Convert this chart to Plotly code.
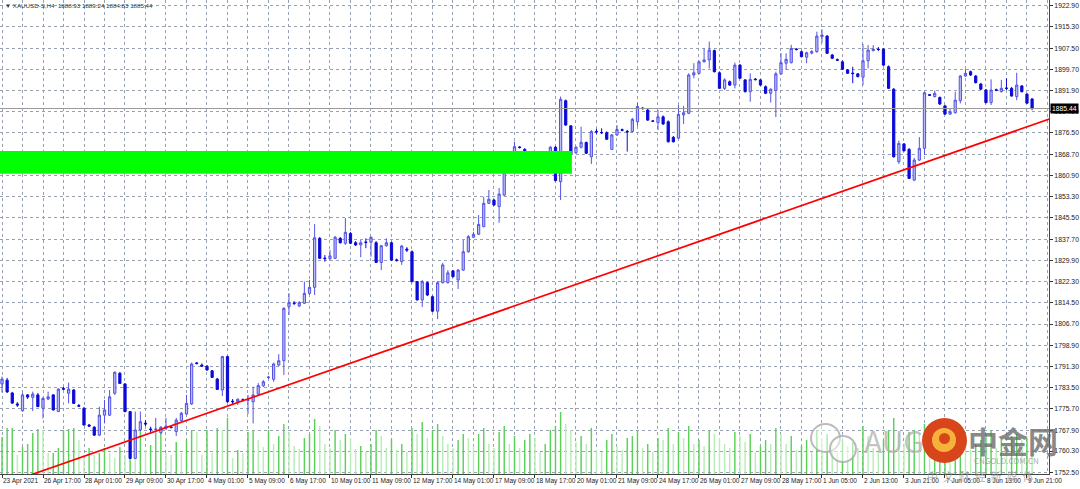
import plotly.graph_objects as go

# ---------------- data ----------------
time_labels = ["23 Apr 2021", "26 Apr 17:00", "28 Apr 01:00", "29 Apr 09:00", "30 Apr 17:00",
               "4 May 01:00", "5 May 09:00", "6 May 17:00", "10 May 01:00", "11 May 09:00",
               "12 May 17:00", "14 May 01:00", "17 May 09:00", "18 May 17:00", "20 May 01:00",
               "21 May 09:00", "24 May 17:00", "26 May 01:00", "27 May 09:00", "28 May 17:00",
               "1 Jun 05:00", "2 Jun 13:00", "3 Jun 21:00", "7 Jun 05:00", "8 Jun 13:00",
               "9 Jun 21:00"]
label_every = 8

price_labels = ["1752.50", "1760.30", "1767.90", "1775.70", "1783.50", "1791.30", "1798.90",
                "1806.70", "1814.50", "1822.30", "1829.90", "1837.70", "1845.50", "1853.30",
                "1860.90", "1868.70", "1876.50", "1884.30", "1891.90", "1899.70", "1907.50",
                "1915.30", "1922.90"]

open_ = [
    1784.8, 1786.2, 1781.5, 1777.5, 1775.0, 1780.8, 1779.9, 1780.8, 1775.9, 1779.3,
    1780.8, 1774.7, 1783.1, 1781.4, 1782.6, 1776.9, 1775.9, 1769.8, 1769.0, 1766.1,
    1773.4, 1773.4, 1781.4, 1788.7, 1784.8, 1774.7, 1757.6, 1768.0, 1770.5, 1768.3,
    1768.2, 1767.0, 1768.6, 1769.1, 1767.4, 1771.4, 1773.8, 1777.5, 1792.5, 1791.7,
    1791.3, 1789.6, 1786.6, 1782.6, 1794.8, 1778.5, 1778.3, 1779.0, 1778.8, 1778.3,
    1781.1, 1784.1, 1787.1, 1786.5, 1791.7, 1793.3, 1813.0, 1814.4, 1813.3, 1814.3,
    1817.9, 1820.1, 1838.0, 1830.8, 1830.6, 1830.7, 1838.0, 1836.2, 1839.8, 1836.4,
    1835.6, 1836.7, 1836.6, 1836.4, 1829.2, 1835.3, 1836.4, 1830.1, 1829.5, 1834.1,
    1833.1, 1822.2, 1815.5, 1821.8, 1816.7, 1811.4, 1821.8, 1821.8, 1826.1, 1822.8,
    1826.4, 1833.1, 1838.4, 1839.5, 1842.3, 1850.8, 1852.0, 1849.6, 1853.8, 1865.6,
    1866.9, 1871.4, 1870.5, 1867.3, 1863.3, 1868.6, 1869.1, 1867.3, 1871.3, 1858.7,
    1888.3, 1879.1, 1869.3, 1871.3, 1873.0, 1867.8, 1877.1, 1876.7, 1876.6, 1870.5,
    1875.8, 1877.7, 1877.1, 1877.0, 1880.6, 1885.6, 1884.9, 1880.9, 1880.3, 1882.4,
    1880.6, 1874.9, 1874.6, 1883.1, 1883.7, 1897.7, 1898.3, 1902.5, 1903.2, 1906.6,
    1898.5, 1892.8, 1895.2, 1894.0, 1901.3, 1895.9, 1891.6, 1896.2, 1895.9, 1893.4,
    1891.0, 1892.0, 1898.1, 1902.0, 1902.2, 1907.2, 1906.2, 1904.2, 1905.7, 1906.2,
    1911.7, 1911.9, 1905.0, 1903.3, 1902.5, 1899.5, 1898.4, 1898.1, 1896.9, 1902.9,
    1906.6, 1907.1, 1907.1, 1900.7, 1892.5, 1866.0, 1872.5, 1870.5, 1859.3, 1866.6,
    1870.9, 1890.5, 1889.8, 1889.5, 1886.4, 1883.4, 1883.9, 1888.3, 1897.3, 1898.9,
    1897.3, 1894.4, 1892.2, 1887.6, 1892.3, 1891.6, 1892.9, 1892.8, 1889.8, 1893.7,
    1890.7, 1888.93]

high = [
    1787.5, 1787.0, 1781.9, 1778.2, 1781.5, 1781.1, 1782.0, 1781.5, 1780.0, 1782.0,
    1781.1, 1783.3, 1783.7, 1785.3, 1782.9, 1777.5, 1776.4, 1770.2, 1769.4, 1776.5,
    1778.9, 1782.6, 1789.3, 1789.2, 1785.1, 1774.9, 1774.7, 1774.7, 1771.6, 1769.2,
    1772.4, 1769.4, 1772.4, 1769.4, 1772.4, 1774.6, 1780.8, 1792.6, 1792.8, 1792.3,
    1791.7, 1789.9, 1787.0, 1795.1, 1795.1, 1779.3, 1779.5, 1779.5, 1780.8, 1783.8,
    1785.1, 1786.2, 1787.7, 1792.6, 1795.7, 1812.9, 1818.0, 1815.1, 1815.1, 1822.2,
    1822.8, 1843.2, 1838.5, 1831.9, 1833.7, 1838.9, 1838.5, 1845.4, 1840.3, 1837.0,
    1837.4, 1838.0, 1838.6, 1837.0, 1835.6, 1838.0, 1836.8, 1830.6, 1835.6, 1834.8,
    1833.6, 1822.4, 1822.8, 1822.2, 1817.1, 1822.4, 1829.0, 1826.4, 1826.4, 1826.8,
    1837.4, 1839.2, 1840.4, 1846.5, 1853.2, 1855.7, 1852.4, 1856.4, 1867.8, 1867.8,
    1873.3, 1871.7, 1871.0, 1867.5, 1869.1, 1869.0, 1869.6, 1871.7, 1871.7, 1889.8,
    1888.7, 1879.4, 1871.7, 1878.8, 1873.4, 1877.6, 1878.0, 1878.2, 1877.1, 1876.1,
    1879.4, 1878.1, 1877.6, 1882.0, 1887.5, 1886.0, 1885.3, 1881.2, 1884.9, 1882.9,
    1881.1, 1875.4, 1886.7, 1886.4, 1898.3, 1902.0, 1903.0, 1907.4, 1909.9, 1907.0,
    1899.0, 1896.5, 1895.7, 1902.2, 1901.7, 1896.2, 1898.3, 1896.6, 1896.2, 1893.9,
    1892.8, 1898.9, 1905.7, 1905.6, 1908.7, 1907.5, 1906.6, 1906.2, 1906.8, 1913.5,
    1914.4, 1912.3, 1905.4, 1903.7, 1903.0, 1899.9, 1900.7, 1898.4, 1909.0, 1908.6,
    1908.6, 1907.9, 1907.5, 1901.2, 1892.9, 1873.7, 1872.8, 1871.0, 1867.4, 1875.0,
    1891.6, 1890.7, 1892.0, 1889.8, 1886.7, 1885.5, 1891.6, 1897.7, 1899.8, 1899.3,
    1897.7, 1894.8, 1892.6, 1896.1, 1892.7, 1895.9, 1896.5, 1893.3, 1898.5, 1894.0,
    1891.1, 1889.24]

low = [
    1781.7, 1781.5, 1777.5, 1776.4, 1774.7, 1779.3, 1774.9, 1776.4, 1772.2, 1778.9,
    1775.1, 1774.6, 1782.6, 1777.7, 1777.5, 1776.4, 1769.6, 1769.1, 1765.8, 1765.8,
    1770.4, 1773.1, 1780.8, 1784.8, 1774.5, 1757.4, 1757.4, 1767.6, 1769.4, 1766.8,
    1767.0, 1766.5, 1768.0, 1768.5, 1765.8, 1771.1, 1773.4, 1777.1, 1791.9, 1791.2,
    1789.7, 1787.0, 1782.6, 1780.4, 1778.0, 1777.1, 1777.1, 1778.4, 1773.8, 1770.4,
    1780.8, 1783.7, 1786.6, 1785.6, 1791.3, 1788.1, 1810.0, 1813.6, 1812.9, 1814.0,
    1817.3, 1817.3, 1830.5, 1829.5, 1830.1, 1830.5, 1836.1, 1835.6, 1835.9, 1835.2,
    1831.1, 1834.4, 1831.3, 1829.0, 1826.4, 1835.0, 1829.7, 1829.5, 1828.3, 1833.0,
    1821.9, 1815.3, 1812.9, 1816.9, 1811.1, 1808.5, 1821.5, 1821.5, 1823.7, 1819.5,
    1826.1, 1832.8, 1838.1, 1839.2, 1842.0, 1850.6, 1849.8, 1843.7, 1853.5, 1865.3,
    1866.6, 1870.8, 1867.5, 1863.3, 1863.0, 1867.9, 1867.4, 1863.9, 1858.8, 1852.0,
    1879.1, 1868.5, 1868.8, 1870.8, 1868.8, 1865.2, 1876.1, 1876.1, 1873.9, 1870.3,
    1875.4, 1877.1, 1869.7, 1876.7, 1879.1, 1885.1, 1880.9, 1880.5, 1877.6, 1879.4,
    1873.0, 1873.0, 1874.3, 1879.8, 1883.4, 1896.5, 1898.0, 1902.3, 1900.1, 1898.6,
    1892.6, 1892.2, 1893.7, 1892.8, 1896.2, 1891.3, 1887.9, 1895.7, 1893.7, 1890.7,
    1887.6, 1882.3, 1897.7, 1899.5, 1901.9, 1906.6, 1904.1, 1902.0, 1905.2, 1905.8,
    1909.5, 1905.4, 1903.5, 1902.8, 1899.5, 1898.1, 1894.7, 1896.8, 1894.0, 1900.1,
    1906.3, 1906.4, 1901.0, 1892.6, 1867.5, 1865.2, 1869.7, 1859.7, 1858.9, 1866.3,
    1868.5, 1890.0, 1889.5, 1886.7, 1883.1, 1883.1, 1883.6, 1887.3, 1897.0, 1897.3,
    1894.6, 1892.2, 1887.3, 1886.7, 1891.8, 1891.3, 1892.2, 1889.8, 1888.5, 1891.3,
    1887.1, 1884.83]

close = [
    1786.6, 1781.9, 1777.8, 1777.1, 1780.8, 1780.0, 1781.1, 1776.5, 1779.5, 1780.1,
    1775.3, 1782.9, 1782.9, 1782.9, 1777.7, 1776.7, 1769.8, 1769.4, 1766.1, 1773.4,
    1775.3, 1780.1, 1789.1, 1785.0, 1774.7, 1757.6, 1768.0, 1771.0, 1770.2, 1768.2,
    1768.3, 1769.0, 1769.4, 1768.9, 1771.6, 1774.1, 1777.7, 1792.1, 1792.3, 1791.3,
    1789.9, 1787.2, 1782.8, 1794.8, 1778.3, 1778.3, 1779.2, 1778.9, 1779.0, 1780.8,
    1784.2, 1785.6, 1787.3, 1792.1, 1793.3, 1812.4, 1814.5, 1814.2, 1814.5, 1817.9,
    1820.1, 1838.2, 1830.7, 1830.6, 1831.6, 1838.4, 1836.4, 1840.2, 1836.2, 1835.6,
    1836.4, 1836.5, 1838.4, 1829.2, 1835.3, 1836.4, 1830.1, 1830.0, 1835.2, 1833.7,
    1822.2, 1815.5, 1822.2, 1817.3, 1811.4, 1821.8, 1828.3, 1825.4, 1824.0, 1826.4,
    1833.1, 1838.6, 1839.5, 1843.1, 1850.8, 1852.3, 1850.2, 1854.2, 1867.2, 1866.6,
    1871.5, 1871.2, 1867.8, 1863.6, 1868.8, 1868.3, 1867.6, 1871.3, 1859.1, 1888.8,
    1879.4, 1868.8, 1871.3, 1873.1, 1869.1, 1877.0, 1876.9, 1876.6, 1874.2, 1875.8,
    1877.8, 1877.5, 1876.9, 1881.5, 1886.2, 1885.4, 1881.2, 1880.8, 1882.4, 1879.8,
    1873.3, 1873.3, 1883.3, 1883.9, 1897.7, 1898.5, 1902.5, 1903.2, 1906.8, 1898.9,
    1892.8, 1895.9, 1894.0, 1901.3, 1896.5, 1891.6, 1896.1, 1896.0, 1894.0, 1891.0,
    1892.5, 1898.1, 1902.2, 1903.4, 1907.4, 1907.0, 1904.4, 1905.8, 1906.2, 1911.9,
    1912.3, 1905.6, 1903.8, 1903.1, 1899.8, 1898.3, 1898.2, 1897.1, 1902.9, 1906.8,
    1907.1, 1907.0, 1901.3, 1892.8, 1867.8, 1872.7, 1870.0, 1859.9, 1866.6, 1870.9,
    1891.2, 1890.3, 1891.0, 1887.1, 1883.4, 1884.3, 1888.5, 1897.3, 1898.3, 1897.7,
    1894.9, 1892.5, 1887.6, 1892.2, 1892.1, 1892.8, 1892.8, 1890.0, 1894.0, 1891.6,
    1887.4, 1885.44]

volume = [
    925, 1150, 1150, 475, 675, 750, 1025, 1125, 1100, 525,
    525, 650, 1100, 1125, 1150, 850, 475, 650, 475, 525,
    650, 525, 400, 675, 475, 1100, 975, 1125, 600, 725,
    1025, 1125, 525, 475, 800, 525, 850, 1100, 1050, 475,
    1100, 525, 1150, 1100, 1400, 400, 600, 525, 1050, 1100,
    850, 675, 1100, 750, 950, 1250, 1050, 700, 625, 900,
    1000, 1375, 1200, 750, 650, 1100, 850, 1000, 900, 625,
    700, 550, 750, 1100, 950, 650, 875, 600, 750, 550,
    1150, 1000, 1300, 900, 1100, 1250, 950, 750, 650, 850,
    1000, 900, 700, 1000, 1150, 750, 650, 1050, 1200, 750,
    950, 650, 850, 1000, 900, 550, 750, 1100, 1200, 1550,
    1250, 1100, 800, 950, 750, 1150, 600, 550, 850, 1000,
    700, 600, 900, 950, 1100, 650, 750, 550, 900, 850,
    1150, 750, 1050, 900, 1200, 750, 850, 700, 1100, 1000,
    900, 750, 650, 1050, 950, 800, 1000, 550, 700, 850,
    750, 1150, 1000, 750, 950, 600, 700, 850, 550, 1100,
    900, 1000, 750, 550, 850, 700, 800, 650, 1200, 950,
    650, 550, 850, 1100, 1400, 1000, 750, 1050, 1100, 1000,
    1250, 600, 650, 800, 900, 550, 950, 1100, 700, 600,
    750, 850, 1000, 1100, 650, 850, 750, 950, 1000, 850,
    900, 500]

zone_low, zone_high = 1861.6, 1869.9
zone_bars = [-3, 111.2]
trend_bars = [0, 205]
trend_prices = [1747.9, 1882.0]
last_price = 1885.44
header = "\u25bc XAUUSD-S,H4  1888.93 1889.24 1884.83 1885.44"

# ---------------- styles ----------------
bear_col = "#0a0ad8"
bull_line = "#5252e6"
bull_fill = "#bcbcf6"
grid_col = "#97a1b0"
vol_up = "#5ad05a"
vol_dn = "#b8ecb8"
x_font = dict(family="Liberation Sans, Arial, sans-serif", size=6.5, color="#1a1a1a")
y_font = dict(family="Liberation Sans, Arial, sans-serif", size=6.8, color="#1a1a1a")

bars = list(range(len(close)))
vol_colors = [vol_up if i == 0 or volume[i] >= volume[i - 1] else vol_dn for i in bars]

fig = go.Figure()
# volumes on the (hidden) base axis
fig.add_trace(go.Bar(x=bars, y=volume, yaxis="y", width=0.28,
                     marker=dict(color=vol_colors, line=dict(width=0)),
                     hoverinfo="skip", showlegend=False))
# supply/demand zone
fig.add_trace(go.Scatter(x=[zone_bars[0], zone_bars[1], zone_bars[1], zone_bars[0], zone_bars[0]],
                         y=[zone_low, zone_low, zone_high, zone_high, zone_low], yaxis="y2",
                         mode="lines", fill="toself", fillcolor="#00ff00",
                         line=dict(width=0, color="#00ff00"), hoverinfo="skip", showlegend=False))
# bid line
fig.add_trace(go.Scatter(x=[-5, 210], y=[last_price, last_price], yaxis="y2", mode="lines",
                         line=dict(color="#9a9a9a", width=1), hoverinfo="skip", showlegend=False))
fig.add_trace(go.Candlestick(x=bars, open=open_, high=high, low=low, close=close, yaxis="y2",
                             increasing=dict(line=dict(color=bull_line, width=1), fillcolor=bull_fill),
                             decreasing=dict(line=dict(color=bear_col, width=1), fillcolor=bear_col),
                             whiskerwidth=0, showlegend=False, hoverinfo="skip"))
fig.add_trace(go.Scatter(x=trend_bars, y=trend_prices, yaxis="y2", mode="lines",
                         line=dict(color="#ff0000", width=1.7), hoverinfo="skip", showlegend=False))

W, H = 1080, 489
ml, mr, mt, mb = 0, 31, 0, 15
pw, ph = W - ml - mr, H - mt - mb

fig.update_layout(
    width=W, height=H,
    margin=dict(l=ml, r=mr, t=mt, b=mb, pad=0, autoexpand=False),
    paper_bgcolor="white", plot_bgcolor="white",
    boxgap=0.38,
    xaxis=dict(range=[-0.39, 204.3], tickmode="array",
               tickvals=[i * label_every for i in range(len(time_labels))], ticktext=time_labels,
               ticklabelposition="outside right", tickangle=0, automargin=False,
               ticks="outside", ticklen=3, tickcolor="#333",
               tickfont=x_font, showgrid=True, gridcolor=grid_col, griddash="dot", gridwidth=1,
               minor=dict(dtick=4, tick0=0, showgrid=True, gridcolor=grid_col, griddash="dot", ticks=""),
               showline=True, linecolor="#444", linewidth=1, mirror=True,
               zeroline=False, rangeslider=dict(visible=False), fixedrange=True),
    yaxis=dict(range=[0, 11850], visible=False, showgrid=False, zeroline=False, fixedrange=True),
    yaxis2=dict(range=[1751.9, 1925.09], overlaying="y", side="right", automargin=False,
                tickmode="array", tickvals=[float(v) for v in price_labels], ticktext=price_labels,
                ticks="outside", ticklen=3, tickcolor="#333", tickfont=y_font,
                showgrid=True, gridcolor=grid_col, griddash="dot", gridwidth=1,
                showline=True, linecolor="#444", linewidth=1, mirror=True,
                zeroline=False, fixedrange=True),
    annotations=[
        dict(x=0.003, y=1 - 6 / ph, xref="paper", yref="paper", text=header, showarrow=False,
             xanchor="left", yanchor="middle",
             font=dict(family="Liberation Sans, Arial, sans-serif", size=6.2, color="#333")),
        dict(x=1, y=last_price, xref="paper", yref="y2", text=f"{last_price:.2f}", showarrow=False,
             xanchor="left", yanchor="middle", xshift=1, bgcolor="#000000", borderpad=1,
             font=dict(family="Liberation Sans, Arial, sans-serif", size=6.8, color="#ffffff")),
    ],
)

# ---------------- watermark (cngold) ----------------
def px(x):
    return (x - ml) / pw

def py(y):
    return 1 - (y - mt) / ph

wm_shapes = [
    dict(type="circle", xref="paper", yref="paper", x0=px(811), x1=px(840), y0=py(452), y1=py(424),
         line=dict(color="rgba(170,170,170,0.8)", width=2), fillcolor="rgba(255,255,255,0.5)"),
    dict(type="circle", xref="paper", yref="paper", x0=px(830), x1=px(856), y0=py(462), y1=py(436),
         line=dict(color="rgba(170,170,170,0.8)", width=2), fillcolor="rgba(255,255,255,0.5)"),
    dict(type="circle", xref="paper", yref="paper", x0=px(922), x1=px(967), y0=py(463), y1=py(418),
         line=dict(width=0), fillcolor="#d9451b"),
    dict(type="circle", xref="paper", yref="paper", x0=px(932), x1=px(956), y0=py(452), y1=py(428),
         line=dict(width=0), fillcolor="#f6b23a"),
    dict(type="circle", xref="paper", yref="paper", x0=px(939), x1=px(950), y0=py(444), y1=py(433),
         line=dict(width=0), fillcolor="#d9451b"),
]
for s in wm_shapes:
    fig.add_shape(**s)

wm_texts = [
    ("AUG", 862, 440, 30, "rgba(175,175,175,0.75)"),
    ("<b>中金网</b>", 966, 440, 30, "rgba(105,105,105,0.8)"),
    ("CNGOLD.COM.CN", 972, 460, 8, "rgba(150,150,150,0.8)"),
    ("中  文  财  经  新  媒  体", 925, 476, 11, "rgba(150,150,150,0.75)"),
]
for t, x, y, s, c in wm_texts:
    fig.add_annotation(x=px(x), y=py(y), xref="paper", yref="paper", text=t, showarrow=False,
                       xanchor="left", yanchor="middle",
                       font=dict(family="Noto Sans CJK SC, Liberation Sans, sans-serif", size=s, color=c))

fig.write_html("out.html", config={"displayModeBar": False, "staticPlot": True},
               post_script="document.body.style.margin='0px';document.body.style.overflow='hidden';")
